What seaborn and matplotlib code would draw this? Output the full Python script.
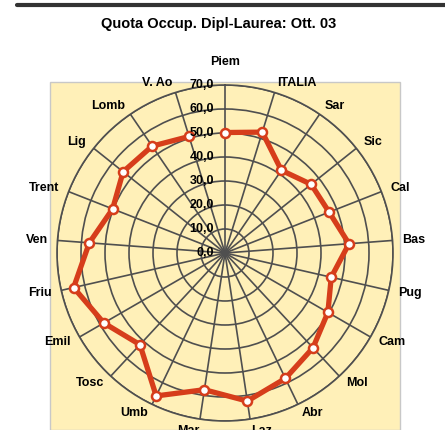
import numpy as np
import pandas as pd
import matplotlib.pyplot as plt
import seaborn as sns
from matplotlib.lines import Line2D
from matplotlib.patches import Rectangle

TITOLO = 'Quota Occup. Dipl-Laurea: Ott. 03'
regioni = ['Piem', 'ITALIA', 'Sar', 'Sic', 'Cal', 'Bas', 'Pug', 'Cam', 'Mol', 'Abr', 'Laz',
           'Mar', 'Umb', 'Tosc', 'Emil', 'Friu', 'Ven', 'Trent', 'Lig', 'Lomb', 'V. Ao']
quota = [50.2, 52.7, 41.7, 45.9, 46.6, 51.8, 45.4, 49.5, 53.9, 58.0, 62.4,
         57.6, 66.1, 52.1, 58.3, 64.7, 56.7, 50.3, 54.3, 53.9, 50.8]
r_ticks = [0, 10, 20, 30, 40, 50, 60, 70]
r_tick_labels = ['0,0', '10,0', '20,0', '30,0', '40,0', '50,0', '60,0', '70,0']

ROSSO = '#D63D1B'
GRIGIO = '#4F4F4F'

sns.set_theme(style='white')
plt.rcParams['font.family'] = ['Liberation Sans', 'DejaVu Sans']

# angoli in senso orario partendo dall'alto, poligono chiuso
n = len(regioni)
angoli = np.linspace(0, 2 * np.pi, n, endpoint=False)
df = pd.DataFrame({'theta': np.append(angoli, angoli[0]),
                   'quota': quota + [quota[0]]})

fig = plt.figure(figsize=(4.45, 4.3), dpi=100)

# sfondo giallo dell'area grafico
fig.add_artist(Rectangle((50 / 445, 0), 350 / 445, 348 / 430, transform=fig.transFigure,
                         facecolor='#FFF0B8', edgecolor='#C8C8C8', lw=1, zorder=-2))
# riga scura in alto
fig.add_artist(Line2D([17 / 445, 1], [1 - 5 / 430, 1 - 5 / 430], transform=fig.transFigure,
                      color='#333333', lw=3))
fig.text(0.491, 1 - 24 / 430, TITOLO, ha='center', va='center', fontsize=10.5,
         fontweight='bold', color='black')

ax = fig.add_axes([57 / 445, 9 / 430, 336 / 445, 336 / 430], projection='polar')
ax.patch.set_alpha(0)
ax.set_theta_zero_location('N')
ax.set_theta_direction(-1)
ax.set_ylim(0, 70)
ax.set_xticks(angoli)
ax.set_xticklabels([])
ax.set_yticks(r_ticks)
ax.set_yticklabels([])
ax.grid(True, color=GRIGIO, lw=1.2)
ax.spines['polar'].set_color(GRIGIO)
ax.spines['polar'].set_linewidth(1.2)

sns.lineplot(data=df, x='theta', y='quota', sort=False, ax=ax, color=ROSSO, lw=3.8,
             marker='o', markersize=6.5, markerfacecolor='white', markeredgecolor=ROSSO,
             markeredgewidth=1.8, zorder=5)
ax.set_xlabel('')
ax.set_ylabel('')

# etichette della scala radiale a sinistra del raggio verticale
for v, lab in zip(r_ticks, r_tick_labels):
    ax.annotate(lab, xy=(0, v), xytext=(-8, 0), textcoords='offset points',
                ha='right', va='center', fontsize=9, fontweight='bold', color='black', zorder=6)

# etichette delle regioni fuori dal cerchio
for th, lab in zip(angoli, regioni):
    dx, dy = np.sin(th), np.cos(th)
    ha = 'left' if dx > 0.1 else ('right' if dx < -0.1 else 'center')
    va = 'bottom' if dy > 0.97 else ('top' if dy < -0.97 else 'center')
    scost = 4 if dy < -0.97 else 7  # in basso il bordo taglia le etichette
    ax.annotate(lab, xy=(th, 70), xytext=(scost * dx, scost * dy + (5 if dy > 0.97 else 0)),
                textcoords='offset points', ha=ha, va=va, fontsize=9, fontweight='bold',
                color='black', annotation_clip=False)

fig.savefig('out.png', dpi=100)
